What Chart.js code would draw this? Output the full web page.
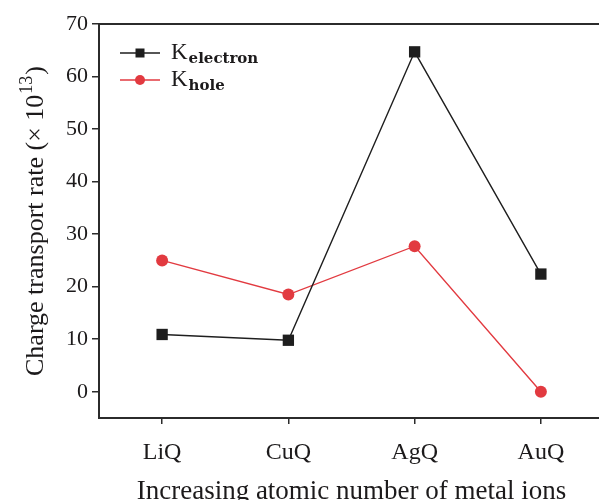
<!DOCTYPE html>
<html>
<head>
<meta charset="utf-8">
<script src="https://cdn.jsdelivr.net/npm/chart.js@4.4.1/dist/chart.umd.min.js"></script>
<style>
  html, body { margin: 0; padding: 0; background: #fff; overflow: hidden; }
  #wrap { position: relative; width: 612px; height: 512px; }
</style>
</head>
<body>
<div id="wrap"><canvas id="c"></canvas></div>
<script>
const categories = ['LiQ', 'CuQ', 'AgQ', 'AuQ'];
const kElectron = [10.9, 9.8, 64.7, 22.4];
const kHole = [25.0, 18.5, 27.7, 0.0];
const yTickValues = [0, 10, 20, 30, 40, 50, 60, 70];
const legendItems = [
  { main: 'K', sub: 'electron' },
  { main: 'K', sub: 'hole' }
];
const yTitleMain = 'Charge transport rate (× 10';
const yTitleSup = '13';
const yTitleEnd = ')';
const xTitle = 'Increasing atomic number of metal ions';

const FONT = "'Liberation Serif', 'DejaVu Serif', serif";
const SUBFONT = "'DejaVu Serif', serif";
const AXIS = '#2b2b2b';
const TEXT = '#1c1a1b';
const BLACK = '#1e1e1e';
const RED = '#e23a40';

const frameAndLegend = {
  id: 'frameAndLegend',
  afterDatasetsDraw(chart) {
    const ctx = chart.ctx;
    const a = chart.chartArea;
    ctx.save();
    // top frame line
    ctx.strokeStyle = AXIS;
    ctx.lineWidth = 2;
    ctx.beginPath();
    ctx.moveTo(a.left - 1, a.top);
    ctx.lineTo(a.right + 2, a.top);
    ctx.stroke();

    // y title with real superscript
    ctx.save();
    ctx.translate(36, (a.top + a.bottom) / 2);
    ctx.rotate(-Math.PI / 2);
    ctx.fillStyle = TEXT;
    ctx.textBaseline = 'middle';
    ctx.textAlign = 'left';
    ctx.font = '26px ' + FONT;
    const w1 = ctx.measureText(yTitleMain).width;
    ctx.font = '18px ' + FONT;
    const w2 = ctx.measureText(yTitleSup).width;
    ctx.font = '26px ' + FONT;
    const w3 = ctx.measureText(yTitleEnd).width;
    const total = w1 + w2 + 2 + w3;
    let x = -total / 2;
    ctx.fillText(yTitleMain, x, 0);
    x += w1 + 1;
    ctx.font = '18px ' + FONT;
    ctx.fillText(yTitleSup, x, -9);
    x += w2 + 1;
    ctx.font = '26px ' + FONT;
    ctx.fillText(yTitleEnd, x, 0);
    ctx.restore();

    // legend
    const x0 = a.left + 21, x1 = a.left + 61, xm = (x0 + x1) / 2;
    const rows = [a.top + 29, a.top + 56];
    chart.data.datasets.forEach((ds, i) => {
      const y = rows[i];
      ctx.strokeStyle = ds.borderColor;
      ctx.lineWidth = 1.5;
      ctx.beginPath();
      ctx.moveTo(x0, y);
      ctx.lineTo(x1, y);
      ctx.stroke();
      ctx.fillStyle = ds.backgroundColor;
      if (ds.pointStyle === 'rect') {
        ctx.fillRect(xm - 4.5, y - 4.5, 9, 9);
      } else {
        ctx.beginPath();
        ctx.arc(xm, y, 5, 0, Math.PI * 2);
        ctx.fill();
      }
      const it = legendItems[i];
      ctx.fillStyle = TEXT;
      ctx.textBaseline = 'alphabetic';
      ctx.textAlign = 'left';
      ctx.font = '23px ' + FONT;
      const tx = x1 + 11;
      ctx.fillText(it.main, tx, y + 6);
      const w = ctx.measureText(it.main).width;
      ctx.font = 'bold 15px ' + SUBFONT;
      ctx.fillText(it.sub, tx + w + 1, y + 10);
    });
    ctx.restore();
  }
};

new Chart(document.getElementById('c'), {
  type: 'line',
  data: {
    labels: categories,
    datasets: [
      {
        label: 'K electron',
        data: kElectron,
        borderColor: BLACK,
        backgroundColor: BLACK,
        borderWidth: 1.4,
        pointStyle: 'rect',
        pointRadius: 8,
        pointBorderWidth: 0,
        tension: 0
      },
      {
        label: 'K hole',
        data: kHole,
        borderColor: RED,
        backgroundColor: RED,
        borderWidth: 1.4,
        pointStyle: 'circle',
        pointRadius: 6,
        pointBorderWidth: 0,
        tension: 0
      }
    ]
  },
  options: {
    responsive: true,
    maintainAspectRatio: false,
    animation: false,
    devicePixelRatio: 1,
    layout: { padding: { top: 24, right: 2, left: 0, bottom: 0 } },
    plugins: { legend: { display: false }, tooltip: { enabled: false } },
    scales: {
      x: {
        type: 'category',
        offset: true,
        afterFit(s) { s.height = 94; },
        grid: { display: true, drawOnChartArea: false, drawTicks: true, tickLength: 6, color: AXIS, lineWidth: 1.5, offset: false },
        border: { display: true, color: AXIS, width: 2 },
        ticks: { color: TEXT, font: { family: FONT, size: 24 }, padding: 14, maxRotation: 0 },
        title: {
          display: true,
          text: xTitle,
          color: TEXT,
          font: { family: FONT, size: 27, lineHeight: 1.2 },
          padding: { top: 0, bottom: 4 }
        }
      },
      y: {
        type: 'linear',
        min: -5,
        max: 70,
        afterFit(s) { s.width = 99; },
        afterBuildTicks(s) { s.ticks = yTickValues.map(v => ({ value: v })); },
        grid: { display: true, drawOnChartArea: false, drawTicks: true, tickLength: 7, color: AXIS, lineWidth: 1.5 },
        border: { display: true, color: AXIS, width: 2 },
        ticks: { color: TEXT, font: { family: FONT, size: 22 }, padding: 4 },
        title: { display: false }
      }
    }
  },
  plugins: [frameAndLegend]
});
</script>
</body>
</html>
